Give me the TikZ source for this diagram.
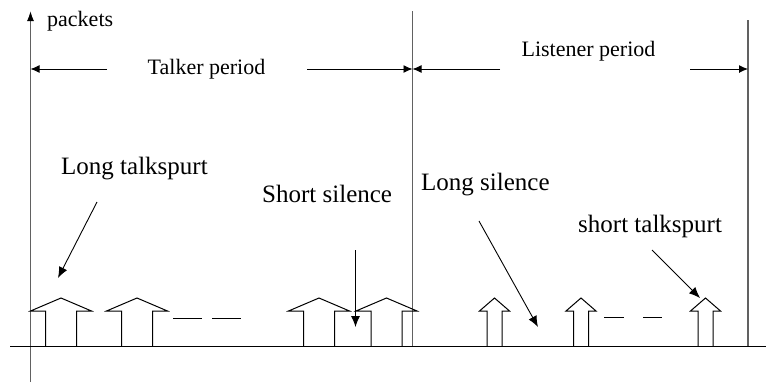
\documentclass[tikz,border=0pt]{standalone}
\usepackage{fontspec}
\setmainfont{Liberation Serif}
\usetikzlibrary{arrows.meta}
\begin{document}
\begin{tikzpicture}[x=1pt,y=-1pt,
  grayline/.style={line width=1.4pt, draw=black!62},
  pktline/.style={line width=1pt, draw=black, line join=miter},
  callout/.style={line width=0.9pt, draw=black, -{Latex[length=11pt,width=9pt]}},
  span/.style={line width=0.9pt, draw=black, -{Latex[length=9pt,width=8pt]}},
  gapdash/.style={line width=0.9pt, draw=black},
  smalltxt/.style={inner sep=0pt, anchor=base west, font=\fontsize{22}{26}\selectfont},
  bigtxt/.style={inner sep=0pt, anchor=base west, font=\fontsize{25}{30}\selectfont},
  big pkt/.pic={\draw[pktline] (-15.5,0) -- (-15.5,-35) -- (-30.5,-35) -- (0,-48)
                 -- (30.5,-35) -- (15.5,-35) -- (15.5,0);},
  small pkt/.pic={\draw[pktline] (-7.5,0) -- (-7.5,-35) -- (-15,-35) -- (0,-48)
                 -- (15,-35) -- (7.5,-35) -- (7.5,0);}
]
\useasboundingbox (0,0) rectangle (766,383);

% axes
\coordinate (ybot) at (30.5,382);
\coordinate (ytop) at (30.5,11);
\coordinate (xl) at (10,346);
\coordinate (xr) at (766,346);
\draw[grayline, -{Latex[length=10pt,width=7pt,color=black]}] (ybot) -- (ytop);
\draw[line width=1pt] (xl) -- (xr);

% period boundaries
\coordinate (b1top) at (412.5,11);
\coordinate (b1bot) at (412.5,346);
\coordinate (b2top) at (748,20);
\coordinate (b2bot) at (748,346);
\draw[grayline] (b1top) -- (b1bot);
\draw[grayline] (b2top) -- (b2bot);

\node[smalltxt] (pk) at (47,26) {packets};

% talker period span
\node[font=\fontsize{22}{26}\selectfont, inner sep=0pt] (tp) at (206.5,69) {Talker period};
\coordinate (tpl) at (30.5,69);
\coordinate (tpr) at (412.5,69);
\coordinate (tpa) at (107,69);
\coordinate (tpb) at (307,69);
\draw[span] (tpa) -- (tpl);
\draw[span] (tpb) -- (tpr);

% listener period span
\node[font=\fontsize{22}{26}\selectfont, inner sep=0pt] (lp) at (588.5,51) {Listener period};
\coordinate (lpl) at (412.5,69);
\coordinate (lpr) at (748,69);
\coordinate (lpa) at (500,69);
\coordinate (lpb) at (690,69);
\draw[span] (lpa) -- (lpl);
\draw[span] (lpb) -- (lpr);

% packet bursts
\pic at (61,346) {big pkt};
\pic at (137,346) {big pkt};
\pic at (319,346) {big pkt};
\pic at (386.5,346) {big pkt};
\pic at (494.5,346) {small pkt};
\pic at (581,346) {small pkt};
\pic at (705.5,346) {small pkt};

% gaps between bursts
\draw[gapdash] (173,318) -- (202,318) (212,318) -- (241,318);
\draw[gapdash] (604,317) -- (624,317) (643,317) -- (662,317);

% labels and callouts
\node[bigtxt] (lt) at (61,174) {Long talkspurt};
\node[bigtxt] (ss) at (262,202) {Short silence};
\node[bigtxt] (ls) at (421,190) {Long silence};
\node[bigtxt] (st) at (578,232) {short talkspurt};

\coordinate (lt0) at (97,202);  \coordinate (lt1) at (58,278);
\coordinate (ss0) at (355.5,250); \coordinate (ss1) at (355.5,327);
\coordinate (ls0) at (479,221); \coordinate (ls1) at (538,327);
\coordinate (st0) at (652,250); \coordinate (st1) at (700,298);
\draw[callout] (lt0) -- (lt1);
\draw[callout] (ss0) -- (ss1);
\draw[callout] (ls0) -- (ls1);
\draw[callout] (st0) -- (st1);
\end{tikzpicture}
\end{document}
